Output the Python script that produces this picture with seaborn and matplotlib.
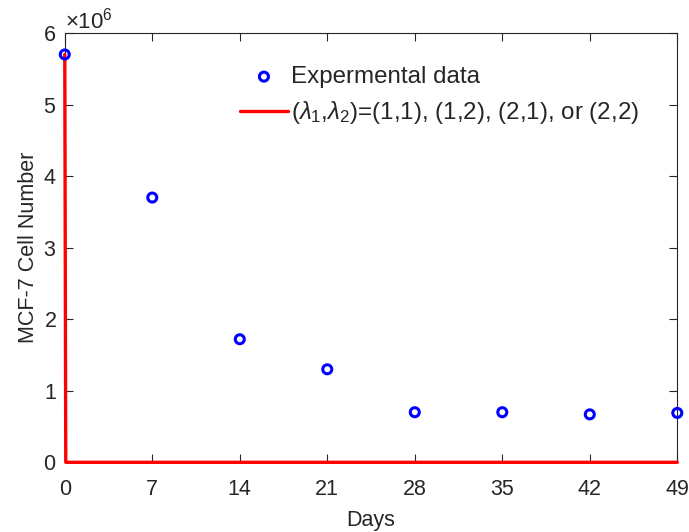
import matplotlib
matplotlib.use("Agg")
import matplotlib.pyplot as plt
from matplotlib.ticker import ScalarFormatter
import seaborn as sns
import pandas as pd

# experimental measurements
days = [0, 7, 14, 21, 28, 35, 42, 49]
cells = [5.70e6, 3.70e6, 1.72e6, 1.30e6, 0.70e6, 0.70e6, 0.67e6, 0.69e6]

# model curve (drops to zero right after day 0)
model_days = [0, 0.08, 1, 10, 20, 30, 40, 49]
model_cells = [5.70e6, 0, 0, 0, 0, 0, 0, 0]

data_label = "Expermental data"
model_label = r"($\lambda_1$,$\lambda_2$)=(1,1), (1,2), (2,1), or (2,2)"
xticks = [0, 7, 14, 21, 28, 35, 42, 49]
yticks = [0, 1e6, 2e6, 3e6, 4e6, 5e6, 6e6]

sns.set_style("ticks")
plt.rcParams["font.family"] = ["Liberation Sans", "DejaVu Sans"]
plt.rcParams["mathtext.fontset"] = "custom"
plt.rcParams["mathtext.rm"] = "Liberation Sans"
plt.rcParams["mathtext.it"] = "Liberation Sans:italic"

gray = "#262626"
df_data = pd.DataFrame({"day": days, "cells": cells})
df_model = pd.DataFrame({"day": model_days, "cells": model_cells})

fig, ax = plt.subplots(figsize=(6.89, 5.32), dpi=100)
fig.subplots_adjust(left=0.094, right=0.983, top=0.938, bottom=0.131)

sns.scatterplot(data=df_data, x="day", y="cells", ax=ax, marker="o",
                s=42, facecolors="none", edgecolor="#0000ff", linewidth=2.2,
                label=data_label, zorder=4, clip_on=False)
sns.lineplot(data=df_model, x="day", y="cells", ax=ax, color="#ff0000",
             linewidth=2.4, label=model_label, zorder=3, clip_on=False)

ax.set_xlim(0, 49)
ax.set_ylim(0, 6e6)
ax.set_xticks(xticks)
ax.set_yticks(yticks)
fmt = ScalarFormatter(useMathText=True)
fmt.set_powerlimits((0, 0))
ax.yaxis.set_major_formatter(fmt)
ax.yaxis.get_offset_text().set_fontsize(16)
ax.yaxis.get_offset_text().set_color(gray)

ax.set_xlabel("Days", fontsize=15.5, color=gray, labelpad=7)
ax.set_ylabel("MCF-7 Cell Number", fontsize=15.5, color=gray, labelpad=3)
ax.tick_params(direction="in", top=True, right=True, labelsize=15.5,
               colors=gray, length=6, width=0.8)
ax.tick_params(axis="x", pad=12)
ax.tick_params(axis="y", pad=6)
for sp in ax.spines.values():
    sp.set_visible(True)
    sp.set_color(gray)
    sp.set_linewidth(0.8)

leg = ax.legend(loc="upper left", bbox_to_anchor=(0.348, 0.876),
                bbox_transform=fig.transFigure, frameon=False,
                fontsize=17.4, handlelength=2.0, handletextpad=0.1,
                labelspacing=0.47, borderpad=0, borderaxespad=0)

fig.savefig("out.png", dpi=100)
